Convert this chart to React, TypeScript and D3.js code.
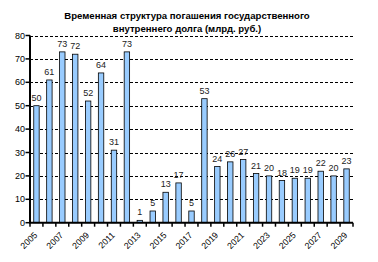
import React from "react";
import * as d3 from "d3";

const years = d3.range(2005, 2030).map(String);
const values = [50, 61, 73, 72, 52, 64, 31, 73, 1, 5, 13, 17, 5, 53, 24, 26, 27, 21, 20, 18, 19, 19, 22, 20, 23];
const yTicks = [0, 10, 20, 30, 40, 50, 60, 70, 80];
const titleLines = ["Временная структура погашения государственного", "внутреннего долга (млрд. руб.)"];

const W = 378, H = 262;
const margin = { left: 30, right: 25, top: 35.5, bottom: 39.3 };
const font = "Arial, 'Liberation Sans', sans-serif";

export default function App() {
  const x = d3.scaleBand().domain(years).range([margin.left, W - margin.right]).paddingInner(0.58).paddingOuter(0.29);
  const xb = d3.scaleBand().domain(years).range([margin.left, W - margin.right]);
  const y = d3.scaleLinear().domain([0, 80]).range([H - margin.bottom, margin.top]);
  const x0 = margin.left, x1 = W - margin.right, y0 = y(0);
  return (
    <svg width={W} height={H} style={{ position: "absolute", left: 0, top: 0, background: "#fff" }} fontFamily={font}>
      {titleLines.map((t, i) => (
        <text key={i} x={187} y={18.5 + i * 13.3} textAnchor="middle" fontSize={9.6} fontWeight="bold" fill="#000">{t}</text>
      ))}
      {yTicks.filter(t => t > 0).map(t => (
        <line key={t} x1={x0} x2={x1} y1={Math.round(y(t)) + 0.5} y2={Math.round(y(t)) + 0.5} stroke="#000" strokeWidth={1} strokeDasharray="3,2" />
      ))}
      {values.map((v, i) => (
        <rect key={i} x={x(years[i])!} y={y(v)} width={x.bandwidth()} height={y0 - y(v)} fill="#99CCFF" stroke="#000" strokeWidth={0.8} />
      ))}
      {values.map((v, i) => (
        <text key={i} x={x(years[i])! + x.bandwidth() / 2} y={y(v) - 5} textAnchor="middle" fontSize={9} fill="#222">{v}</text>
      ))}
      <line x1={x0} x2={x0} y1={margin.top} y2={y0} stroke="#000" strokeWidth={2} />
      <line x1={x0 - 1} x2={x1} y1={y0} y2={y0} stroke="#000" strokeWidth={2} />
      {yTicks.map(t => (
        <g key={t}>
          <line x1={x0 - 4.5} x2={x0} y1={y(t)} y2={y(t)} stroke="#000" strokeWidth={1.5} />
          <text x={x0 - 5} y={y(t) + 3} textAnchor="end" fontSize={9} fill="#000">{t}</text>
        </g>
      ))}
      {years.map((yr) => (
        <line key={yr} x1={xb(yr)!} x2={xb(yr)!} y1={y0} y2={y0 + 4} stroke="#000" strokeWidth={1.5} />
      ))}
      <line x1={x1} x2={x1} y1={y0} y2={y0 + 4} stroke="#000" strokeWidth={1.5} />
      {years.map((yr, i) => i % 2 === 0 ? (
        <text key={yr} transform={`translate(${xb(yr)! + xb.bandwidth() / 2 + 1.5},${y0 + 13}) rotate(-45)`} textAnchor="end" fontSize={8.8} fill="#000">{yr}</text>
      ) : null)}
    </svg>
  );
}
